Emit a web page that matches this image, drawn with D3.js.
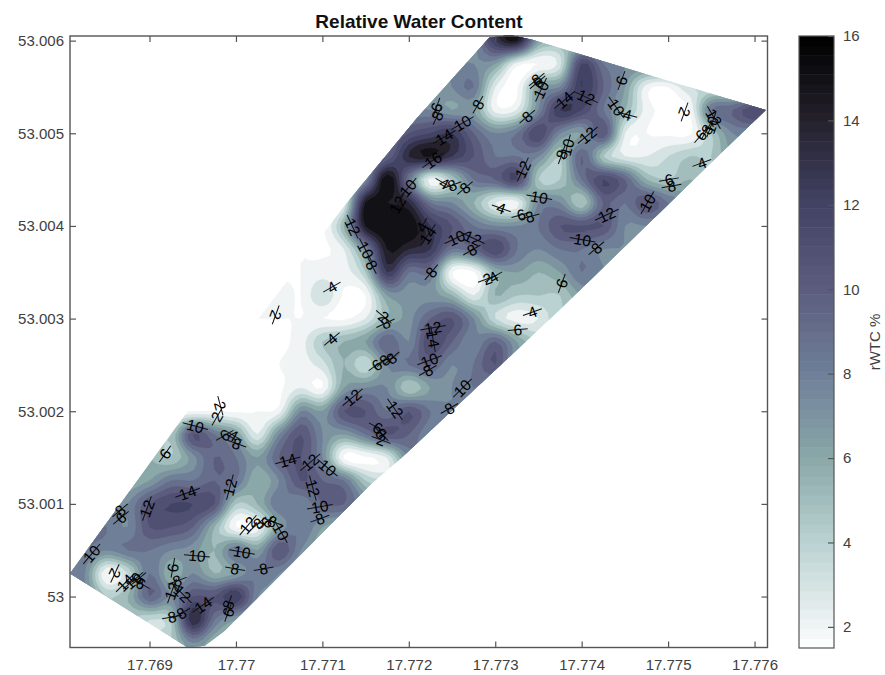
<!DOCTYPE html>
<html>
<head>
<meta charset="utf-8">
<script src="https://cdn.jsdelivr.net/npm/d3@7"></script>
<style>
  html, body { margin: 0; padding: 0; background: #fff; }
  text { font-family: "Liberation Sans", Arial, sans-serif; }
</style>
</head>
<body>
<svg id="chart" width="885" height="675"></svg>
<script>
// grid of rWTC values, one row per 0.00025 deg of latitude (north to south)
// each row: [first column, values...]; columns step 0.00025 deg of longitude
const gridLon0 = 17.768;
const gridLat0 = 53.00625;
const gridStep = 0.00025;
const gridCols = 34;
const wtcRows = [
  [20, 13, 16, 9],
  [19, 8, 13, 15, 7, 6],
  [18, 8, 8, 7, 2.5, 2, 3.5, 12, 9, 8],
  [17, 7, 8, 9, 3, 1.8, 7, 8, 13, 10, 7, 2.5, 2, 4],
  [16, 8, 8, 7, 7, 2.5, 3, 8, 13, 12, 9, 6, 2.5, 1.8, 2, 9, 10, 12, 11],
  [15, 9, 11, 12, 13, 10, 8, 9, 12, 8, 7, 11, 3, 2, 1.8, 1.8, 5, 8, 8],
  [14, 8, 10, 14, 15, 13, 11, 9, 9, 8, 5, 10, 5, 3, 3, 4, 5, 5, 7],
  [13, 5, 8, 16, 9, 2.5, 5, 9, 10, 12, 5, 5, 9, 12, 10, 6, 5, 6, 5],
  [12, 2, 3, 15, 15, 14, 9, 8, 6, 3, 2.5, 8, 8, 5, 10, 9, 11, 9, 8],
  [11, 2, 1.8, 6, 15, 16, 16, 13, 11, 9, 8, 8, 9, 11, 11, 11, 8, 8],
  [10, 2, 2, 1.8, 3, 8, 15, 14, 13, 9, 10, 12, 9, 8, 9, 9, 8, 8],
  [9, 2, 1.8, 2, 2.5, 2.5, 5, 13, 9, 9, 2, 1.8, 6, 7, 6, 7, 9, 8],
  [8, 2, 2, 2.5, 2, 4, 1.8, 2, 7, 7.5, 7.5, 6, 3, 6, 5, 5, 5, 7],
  [8, 2, 2, 2, 2, 2, 1.8, 3, 6, 7.5, 10, 11, 8, 4, 2.5, 3, 5],
  [7, 2, 1.8, 1.8, 1.8, 2.5, 5, 6, 7, 10, 8, 12, 10, 8, 10, 7, 5],
  [7, 2, 1.8, 1.8, 2, 2.5, 3.5, 6, 4, 8, 9, 10, 8, 9, 11, 7],
  [6, 2, 1.8, 1.8, 1.8, 1.8, 3, 2, 7, 8, 8, 5, 7, 8, 9, 8],
  [5, 2, 2, 2, 1.8, 2, 2.5, 8, 7, 11, 11, 9, 11, 9, 8, 8],
  [4, 6, 5, 11, 9, 7, 3, 8, 11, 8, 7, 9, 11, 10, 8],
  [3, 6, 6, 5, 7.5, 10, 9, 7, 10, 11, 8, 1.8, 1.8, 3, 8],
  [2, 6, 6, 7, 9, 9, 10, 9, 6, 8, 11, 10, 9, 5, 4],
  [1, 8, 8, 8, 11, 12, 12, 11, 5, 6, 9, 8, 10, 10, 8],
  [0, 8, 9, 9, 8, 11, 11, 10, 6, 2, 2.5, 7, 9, 7, 6],
  [0, 8, 9, 8, 9, 9, 8, 7.5, 6, 9, 7, 11, 8, 6],
  [0, 9, 8, 2, 4, 9, 6, 8, 6, 7, 9, 8, 6],
  [1, 8, 5, 6, 10, 8, 11, 11, 13, 8, 7],
  [3, 5, 4, 5, 14, 9, 7],
  [4, 5, 5, 8, 6, 5],
  [4, 5, 5, 8, 6, 5]
];

// field outline
const fieldLon = [17.76808, 17.76944, 17.76964, 17.76987, 17.77157, 17.77192, 17.77374, 17.77574,
  17.77613, 17.77467, 17.77343, 17.77317, 17.77293, 17.77210, 17.77124, 17.77019, 17.76945];
const fieldLat = [53.00025, 52.99945, 52.99947, 52.99963, 53.00122, 53.00150, 53.00309, 53.00490,
  53.00525, 53.00566, 53.00601, 53.00606, 53.00603, 53.00517, 53.00420, 53.00291, 53.00201];

const xTicks = [17.769, 17.77, 17.771, 17.772, 17.773, 17.774, 17.775, 17.776];
const yTicks = [53, 53.001, 53.002, 53.003, 53.004, 53.005, 53.006];
const barTicks = [2, 4, 6, 8, 10, 12, 14, 16];
const levels = d3.range(2, 16);

// colour bar read at these values
const colorValues = [1.5, 2, 4, 6, 8, 10, 12, 14, 16];
const colorHex = ["#ffffff", "#f0f4f4", "#bbd2d2", "#8aa8a8", "#6f7f98", "#5c5d7e", "#434366", "#24212c", "#000000"];

// contour labels: text, lon, lat, angle
const contourLabels = [
  ["2",17.77046,53.00304,110],["4",17.77111,53.00334,-30],["2",17.77171,53.00302,40],["8",17.77173,53.00295,-25],
  ["12",17.77135,53.00399,65],["10",17.7715,53.00374,62],["8",17.77157,53.00358,62],["12",17.77187,53.00423,-60],
  ["10",17.77199,53.00441,-50],["6",17.77446,53.00557,-70],["2",17.77519,53.00523,110],["6",17.77349,53.00555,-40],
  ["8",17.77348,53.00558,-40],["10",17.77353,53.00547,-65],["8",17.77337,53.00518,-40],["14",17.7738,53.00536,-40],
  ["12",17.77405,53.00539,25],["10",17.7744,53.00528,55],["4",17.77453,53.0052,15],["8",17.7728,53.00531,-60],
  ["6",17.77232,53.00528,-70],["8",17.77233,53.00519,-65],["10",17.77262,53.00511,-30],["14",17.77241,53.00496,-30],
  ["16",17.77228,53.00471,-35],["10",17.77383,53.00485,-75],["8",17.77377,53.00477,-70],["12",17.77407,53.00498,-40],
  ["12",17.77332,53.00461,-65],["4",17.77241,53.00446,30],["8",17.7725,53.00444,-20],["8",17.77265,53.00441,-40],
  ["4",17.77307,53.00419,20],["10",17.77351,53.00431,10],["6",17.7733,53.00412,-15],["8",17.7734,53.0041,-15],
  ["12",17.77429,53.00412,-25],["10",17.77476,53.00425,-60],["6",17.77501,53.0045,-10],["8",17.77504,53.00443,-10],
  ["4",17.77539,53.00468,-20],["10",17.77401,53.00385,10],["8",17.77417,53.00376,-40],["12",17.77553,53.00517,60],
  ["10",17.7755,53.00509,-70],["8",17.77545,53.00504,-60],["6",17.77538,53.00498,-50],["4",17.77215,53.00399,-60],
  ["14",17.77222,53.0039,-55],["10",17.77255,53.00387,-25],["12",17.77274,53.00387,25],["8",17.77273,53.00374,-30],
  ["8",17.77226,53.0035,-50],["2",17.77291,53.00343,-20],["4",17.77298,53.00345,-30],["6",17.77377,53.00338,-70],
  ["4",17.77343,53.00307,-20],["6",17.77326,53.00288,-5],["12",17.77228,53.0029,-10],["14",17.77228,53.00278,80],
  ["10",17.77224,53.00255,-20],["8",17.77222,53.00244,-30],["10",17.77262,53.00225,-45],["8",17.77247,53.00203,-30],
  ["12",17.77135,53.00215,-40],["12",17.77184,53.00202,55],["6",17.77164,53.00182,30],["8",17.77168,53.00176,45],
  ["2",17.77168,53.00169,20],["6",17.77163,53.0025,-35],["8",17.77172,53.00255,-40],["8",17.7718,53.00257,-40],
  ["4",17.77111,53.00278,-40],["2",17.76982,53.00206,75],["2",17.76978,53.00194,-60],["6",17.76987,53.00174,-30],
  ["4",17.76997,53.00174,30],["8",17.77001,53.00165,20],["10",17.76953,53.00184,15],["6",17.76918,53.00154,-55],
  ["14",17.7706,53.00147,-15],["12",17.77086,53.00145,-40],["10",17.77106,53.00139,40],["12",17.77089,53.00117,75],
  ["14",17.76944,53.00112,-20],["12",17.76993,53.00118,-75],["12",17.76897,53.00095,-70],["8",17.76866,53.00093,-40],
  ["6",17.76867,53.00085,-40],["10",17.77097,53.00097,-10],["8",17.77097,53.00084,-20],["12",17.77014,53.00077,-50],
  ["8",17.77026,53.00079,-40],["6",17.77035,53.0008,-40],["8",17.77042,53.00081,20],["10",17.77052,53.0007,60],
  ["10",17.76955,53.00044,5],["10",17.77007,53.00048,10],["8",17.76999,53.0003,10],["8",17.77032,53.0003,-10],
  ["10",17.76833,53.00046,-50],["2",17.7686,53.00025,115],["14",17.76872,53.00015,-45],["10",17.76881,53.00017,-40],
  ["8",17.76887,53.00019,-40],["6",17.7689,53.00014,30],["6",17.76927,53.00031,-80],["8",17.76932,53.00017,-20],
  ["12",17.76926,53.00006,-70],["12",17.76938,53.00003,45],["8",17.76926,52.99978,-10],["8",17.76937,52.99982,-30],
  ["14",17.76962,52.99991,-35],["8",17.76991,52.99991,-70],["6",17.76991,52.99983,-70]
];

const svg = d3.select("#chart");
const boxColor = "#555";
const textColor = "#404040";

const x = d3.scaleLinear().domain([17.76808, 17.77615]).range([70, 767.5]);
const y = d3.scaleLinear().domain([52.99945, 53.00605]).range([647.5, 36]);
const barY = d3.scaleLinear().domain([1.5, 16]).range([648, 36]);
const color = d3.scaleLinear().domain(colorValues).range(colorHex);

// pad each row out to the full width so the clip edge has values behind it
const cells = [];
wtcRows.forEach((row) => {
  const start = row[0];
  const vals = row.slice(1);
  for (let i = 0; i < gridCols; i++) {
    const k = Math.max(0, Math.min(vals.length - 1, i - start));
    cells.push(vals[k]);
  }
});
const gridRows = wtcRows.length;
const cell = (a, b) => cells[Math.max(0, Math.min(gridRows - 1, b)) * gridCols + Math.max(0, Math.min(gridCols - 1, a))];

const cubic = (p0, p1, p2, p3, t) => p1 + 0.5 * t * (p2 - p0 + t * (2 * p0 - 5 * p1 + 4 * p2 - p3 + t * (3 * (p1 - p2) + p3 - p0)));

// finer grid so the bands come out rounded
const zoomK = 4;
const fineW = (gridCols - 1) * zoomK + 1;
const fineH = (gridRows - 1) * zoomK + 1;
const fine = new Float64Array(fineW * fineH);
for (let j = 0; j < fineH; j++) {
  for (let i = 0; i < fineW; i++) {
    const gi = i / zoomK, gj = j / zoomK;
    const i0 = Math.floor(gi), j0 = Math.floor(gj);
    const rowsAt = [-1, 0, 1, 2].map((dj) =>
      cubic(cell(i0 - 1, j0 + dj), cell(i0, j0 + dj), cell(i0 + 1, j0 + dj), cell(i0 + 2, j0 + dj), gi - i0));
    fine[j * fineW + i] = cubic(rowsAt[0], rowsAt[1], rowsAt[2], rowsAt[3], gj - j0);
  }
}

const contours = d3.contours().size([fineW, fineH]).thresholds(levels)(fine);
const toScreen = d3.geoTransform({
  point: function(gx, gy) {
    const lon = gridLon0 + (gx - 0.5) / zoomK * gridStep;
    const lat = gridLat0 - (gy - 0.5) / zoomK * gridStep;
    this.stream.point(x(lon), y(lat));
  }
});
const path = d3.geoPath(toScreen);

svg.append("defs").append("clipPath")
    .attr("id", "field")
  .append("polygon")
    .attr("points", fieldLon.map((d, i) => `${x(d)},${y(fieldLat[i])}`).join(" "));

svg.append("g")
    .attr("clip-path", "url(#field)")
  .selectAll("path")
  .data(contours)
  .enter().append("path")
    .attr("d", path)
    .attr("fill", (d) => color(d.value))
    .attr("stroke", (d) => color(d.value))
    .attr("stroke-width", 0.3);

// contour labels, each with the little line through it
const label = svg.append("g")
  .selectAll("g")
  .data(contourLabels)
  .enter().append("g")
    .attr("transform", (d) => `translate(${x(d[1])},${y(d[2])}) rotate(${d[3]})`);

label.append("line")
    .attr("x1", (d) => d[0].length > 1 ? -13 : -10)
    .attr("x2", (d) => d[0].length > 1 ? 13 : 10)
    .attr("stroke", "#111")
    .attr("stroke-width", 1);

label.append("text")
    .attr("text-anchor", "middle")
    .attr("dy", "0.36em")
    .attr("font-size", 15.5)
    .attr("fill", "#000")
    .text((d) => d[0]);

// axes
const xAxis = d3.axisBottom(x).tickValues(xTicks).tickFormat((d) => String(+d.toFixed(3))).tickSize(-6).tickPadding(12);
const yAxis = d3.axisLeft(y).tickValues(yTicks).tickFormat((d) => String(+d.toFixed(3))).tickSize(-6).tickPadding(6);

const styleAxis = (g) => {
  g.select(".domain").remove();
  g.selectAll("line").attr("stroke", boxColor).attr("stroke-width", 1.2);
  g.selectAll("text").attr("fill", textColor).attr("font-size", 15);
};

svg.append("g").attr("transform", "translate(0,647.5)").call(xAxis).call(styleAxis);
svg.append("g").attr("transform", "translate(70,0)").call(yAxis).call(styleAxis);
svg.append("g").attr("transform", "translate(0,36)")
    .call(d3.axisTop(x).tickValues(xTicks).tickFormat("").tickSize(-6)).call(styleAxis);
svg.append("g").attr("transform", "translate(767.5,0)")
    .call(d3.axisRight(y).tickValues(yTicks).tickFormat("").tickSize(-6)).call(styleAxis);

svg.append("rect")
    .attr("x", 70).attr("y", 36).attr("width", 697.5).attr("height", 611.5)
    .attr("fill", "none").attr("stroke", boxColor).attr("stroke-width", 1.4);

svg.append("text")
    .attr("x", 419).attr("y", 28)
    .attr("text-anchor", "middle")
    .attr("font-size", 19)
    .attr("font-weight", "bold")
    .attr("fill", "#111")
    .text("Relative Water Content");

// colour bar
const barSteps = d3.range(64).map((i) => 1.5 + (i + 0.5) * 14.5 / 64);
svg.append("g")
  .selectAll("rect")
  .data(barSteps)
  .enter().append("rect")
    .attr("x", 799)
    .attr("width", 35)
    .attr("y", (d) => barY(d + 14.5 / 128))
    .attr("height", 612 / 64 + 0.5)
    .attr("fill", (d) => color(d));

const barAxis = d3.axisRight(barY).tickValues(barTicks).tickSize(-6).tickPadding(9);
svg.append("g").attr("transform", "translate(834,0)").call(barAxis).call(styleAxis);

svg.append("rect")
    .attr("x", 799).attr("y", 36).attr("width", 35).attr("height", 612)
    .attr("fill", "none").attr("stroke", boxColor).attr("stroke-width", 1.2);

svg.append("text")
    .attr("transform", "translate(880,342) rotate(-90)")
    .attr("text-anchor", "middle")
    .attr("font-size", 15)
    .attr("fill", textColor)
    .text("rWTC %");
</script>
</body>
</html>
